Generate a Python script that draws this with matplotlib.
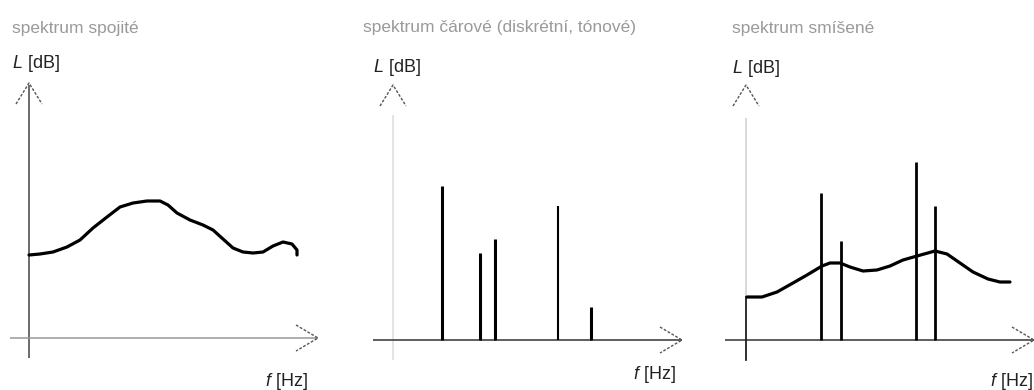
import matplotlib
matplotlib.use('Agg')
import matplotlib.pyplot as plt

plt.rcParams['font.family'] = ['Liberation Sans', 'DejaVu Sans']
plt.rcParams['mathtext.fontset'] = 'custom'
plt.rcParams['mathtext.it'] = 'Liberation Sans:italic'
plt.rcParams['mathtext.rm'] = 'Liberation Sans'

W, H = 1034, 390

# continuous spectrum (level vs. frequency, arbitrary units)
cont_f = [0, 11, 24, 38, 51, 64, 78, 91, 104, 118, 131, 139, 148, 161, 174,
          184, 194, 204, 214, 224, 234, 244, 254, 263, 268, 268]
cont_L = [83, 84, 86, 91, 98, 110, 121, 131, 135, 137, 137, 133, 125, 118, 113,
          108, 99, 90, 86, 85, 86, 92, 96, 94, 88, 83]

# line (tonal) spectrum
line_f = [49, 87, 102, 165, 198]
line_L = [154, 87, 101, 134, 33]
line_w = [2.2, 2.2, 2.2, 1.5, 2.2]

# mixed spectrum: tonal lines on top of a broadband curve
mix_line_f = [75, 95, 170, 189]
mix_line_L = [147, 99, 178, 134]
mix_f = [1, 16, 31, 47, 61, 76, 84, 94, 104, 117, 131, 144, 157, 171, 189,
         201, 214, 227, 242, 254, 264]
mix_L = [43, 43, 48, 57, 65, 74, 77, 77, 73, 69, 70, 74, 80, 84, 89,
         86, 77, 68, 61, 58, 58]

titles = ['spektrum spojité', 'spektrum čárové (diskrétní, tónové)', 'spektrum smíšené']

# panel origins in figure pixels, and axis extents in data units
origins = [(29, 338), (393, 340), (746, 340)]
yaxis_top = [253, 225, 222]
xaxis_span = [(-19, 289), (-20, 289), (-21, 288)]
title_xy = [(12, 33), (363, 32), (732, 33)]
ylab_xy = [(12, 68), (373, 72), (732, 73)]
xlab_xy = [(265, 386), (633, 379), (990, 386)]

fig = plt.figure(figsize=(W / 100, H / 100), dpi=100)
fig.patch.set_facecolor('white')

axes = []
for ox, oy in origins:
    ax = fig.add_axes([0, 0, 1, 1])
    ax.patch.set_alpha(0)
    ax.set_xlim(-ox, W - ox)
    ax.set_ylim(oy - H, oy)
    ax.axis('off')
    axes.append(ax)


def draw_axes(ax, ytop, xspan, ycol, xcol):
    ax.plot([0, 0], [-20, ytop], color=ycol, lw=1.1, solid_capstyle='butt')
    ax.plot(list(xspan), [0, 0], color=xcol, lw=1.1, solid_capstyle='butt')
    # open chevron heads, drawn light and broken like pencil strokes
    ty = 255
    ax.plot([-13, 0, 13], [ty - 21, ty, ty - 21], color='#555555', lw=1.0,
            ls=(0, (2, 1.2)))
    tx = xspan[1]
    ax.plot([tx - 22, tx, tx - 22], [13, 0, -13], color='#555555', lw=1.0,
            ls=(0, (2, 1.2)))


ax1, ax2, ax3 = axes
draw_axes(ax1, yaxis_top[0], xaxis_span[0], '#444444', '#999999')
draw_axes(ax2, yaxis_top[1], xaxis_span[1], '#dddddd', '#333333')
draw_axes(ax3, yaxis_top[2], xaxis_span[2], '#d0d0d0', '#333333')
ax3.plot([0, 0], [-20, mix_L[0]], color='#222222', lw=1.3)

ax1.plot(cont_f, cont_L, color='black', lw=2.3, solid_capstyle='round',
         solid_joinstyle='round')

ax2.vlines(line_f, 0, line_L, colors='black', linewidths=line_w)

ax3.vlines(mix_line_f, 0, mix_line_L, colors='black', linewidths=2.0)
ax3.plot(mix_f, mix_L, color='black', lw=2.3, solid_capstyle='round',
         solid_joinstyle='round')

for (tx, ty), t in zip(title_xy, titles):
    fig.text(tx / W, 1 - ty / H, t, color='#9a9a9a', fontsize=12.5,
             va='baseline', ha='left')
for tx, ty in ylab_xy:
    fig.text(tx / W, 1 - ty / H, r'$\mathit{L}$ [dB]', color='#222222',
             fontsize=13, va='baseline', ha='left')
for tx, ty in xlab_xy:
    fig.text(tx / W, 1 - ty / H, r'$\mathit{f}$ [Hz]', color='#222222',
             fontsize=13, va='baseline', ha='left')

fig.savefig('out.png', dpi=100)
